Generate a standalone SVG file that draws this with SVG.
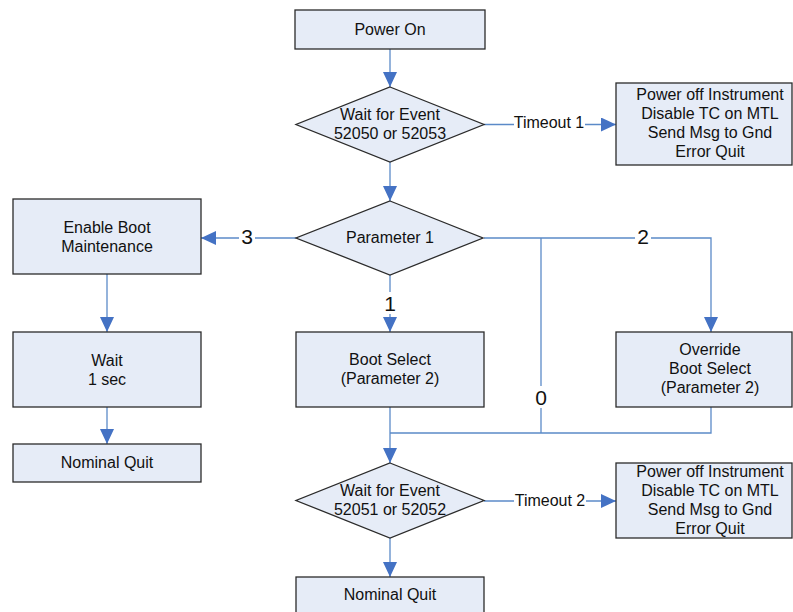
<svg xmlns="http://www.w3.org/2000/svg" width="793" height="612" viewBox="0 0 793 612">
<style>
.box{fill:#E6ECF7;stroke:#2b2b2b;stroke-width:1.3}
.t{font-family:"Liberation Sans",Arial,sans-serif;font-size:16px;fill:#111;text-anchor:middle}
.n{font-family:"Liberation Sans",Arial,sans-serif;font-size:21px;fill:#111;text-anchor:middle}
.c{fill:none;stroke:#5B8AC8;stroke-width:1.3}
.bg{fill:#fff}
</style>
<defs>
<marker id="ah" markerUnits="userSpaceOnUse" markerWidth="16" markerHeight="16" refX="15" refY="7" orient="auto">
<path d="M0,0 L15,7 L0,14 Z" fill="#4472C4"/>
</marker>
</defs>
<rect width="793" height="612" fill="#fff"/>
<g id="connectors">
<path class="c" d="M390,49 V87" marker-end="url(#ah)"/>
<path class="c" d="M484,124.5 H616" marker-end="url(#ah)"/>
<path class="c" d="M390,162 V201" marker-end="url(#ah)"/>
<path class="c" d="M296,238 H201" marker-end="url(#ah)"/>
<path class="c" d="M107,274 V332" marker-end="url(#ah)"/>
<path class="c" d="M107,407 V444" marker-end="url(#ah)"/>
<path class="c" d="M390,275 V332" marker-end="url(#ah)"/>
<path class="c" d="M484,238 H711 V332" marker-end="url(#ah)"/>
<path class="c" d="M541,238 V433"/>
<path class="c" d="M711,407 V433 H390"/>
<path class="c" d="M390,407 V463" marker-end="url(#ah)"/>
<path class="c" d="M484,501 H616" marker-end="url(#ah)"/>
<path class="c" d="M390,538 V577" marker-end="url(#ah)"/>
<rect class="bg" x="514" y="113" width="71" height="20"/>
<text class="t" x="549" y="128">Timeout 1</text>
<rect class="bg" x="514" y="490" width="72" height="20"/>
<text class="t" x="550" y="506">Timeout 2</text>
<rect class="bg" x="239" y="228" width="16" height="20"/>
<text class="n" x="247" y="244">3</text>
<rect class="bg" x="382" y="292" width="16" height="22"/>
<text class="n" x="390" y="311">1</text>
<rect class="bg" x="635" y="228" width="16" height="20"/>
<text class="n" x="643" y="244">2</text>
<rect class="bg" x="533" y="386" width="16" height="22"/>
<text class="n" x="541" y="405">0</text>
</g>
<g id="power-on">
<rect class="box" x="295" y="10" width="190" height="39"/>
<text class="t" x="390" y="35">Power On</text>
</g>
<g id="wait-event-1">
<polygon class="box" points="390,87 484,124.5 390,162 296,124.5"/>
<text class="t" x="390" y="120">Wait for Event</text>
<text class="t" x="390" y="139">52050 or 52053</text>
</g>
<g id="error-1">
<rect class="box" x="616" y="83" width="176" height="82"/>
<text class="t" x="710" y="100">Power off Instrument</text>
<text class="t" x="710" y="119">Disable TC on MTL</text>
<text class="t" x="710" y="138">Send Msg to Gnd</text>
<text class="t" x="710" y="157">Error Quit</text>
</g>
<g id="parameter-1">
<polygon class="box" points="390,201 483,238 390,275 296,238"/>
<text class="t" x="390" y="243">Parameter 1</text>
</g>
<g id="enable-boot">
<rect class="box" x="13" y="199" width="188" height="75"/>
<text class="t" x="107" y="233">Enable Boot</text>
<text class="t" x="107" y="252">Maintenance</text>
</g>
<g id="wait-1sec">
<rect class="box" x="13" y="332" width="188" height="75"/>
<text class="t" x="107" y="366">Wait</text>
<text class="t" x="107" y="385">1 sec</text>
</g>
<g id="nominal-quit-1">
<rect class="box" x="13" y="444" width="188" height="38"/>
<text class="t" x="107" y="468">Nominal Quit</text>
</g>
<g id="boot-select">
<rect class="box" x="296" y="332" width="188" height="75"/>
<text class="t" x="390" y="365">Boot Select</text>
<text class="t" x="390" y="384">(Parameter 2)</text>
</g>
<g id="override-boot-select">
<rect class="box" x="616" y="332" width="176" height="75"/>
<text class="t" x="710" y="355">Override</text>
<text class="t" x="710" y="374">Boot Select</text>
<text class="t" x="710" y="393">(Parameter 2)</text>
</g>
<g id="wait-event-2">
<polygon class="box" points="390,463 484,500.5 390,538 296,500.5"/>
<text class="t" x="390" y="496">Wait for Event</text>
<text class="t" x="390" y="515">52051 or 52052</text>
</g>
<g id="error-2">
<rect class="box" x="616" y="463" width="176" height="75"/>
<text class="t" x="710" y="477">Power off Instrument</text>
<text class="t" x="710" y="496">Disable TC on MTL</text>
<text class="t" x="710" y="515">Send Msg to Gnd</text>
<text class="t" x="710" y="534">Error Quit</text>
</g>
<g id="nominal-quit-2">
<rect class="box" x="296" y="577" width="188" height="45"/>
<text class="t" x="390" y="600">Nominal Quit</text>
</g>
</svg>
